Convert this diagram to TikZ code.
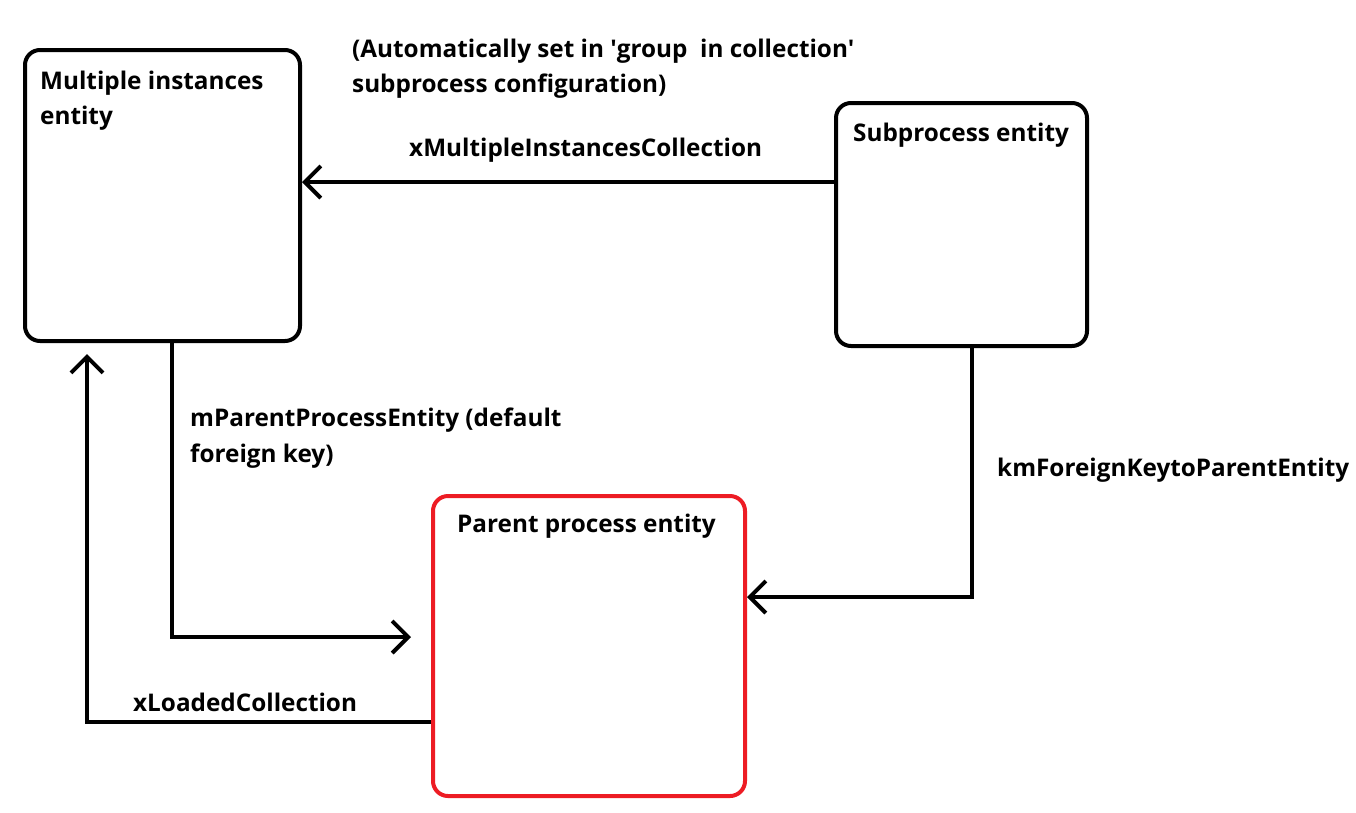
\documentclass[tikz,border=0pt]{standalone}
\usepackage{fontspec}
\setmainfont{Open Sans}
\usetikzlibrary{arrows.meta}
\definecolor{paintred}{HTML}{ED1C24}
\begin{document}
\begin{tikzpicture}[x=1pt,y=-1pt,
  box/.style={draw, line width=4pt, rounded corners=15pt, inner sep=0pt},
  lbl/.style={inner sep=0pt, anchor=base west, align=left, font=\fontsize{24.3}{35.5}\selectfont\bfseries},
  arr/.style={line width=4pt, -{Straight Barb[length=16pt,width=32pt,line width=4pt]}},
]
\useasboundingbox (0,0) rectangle (1356,812);
% boxes
\node[box, minimum width=275pt, minimum height=291pt] (mi) at (162.5,195.5) {};
\node[box, minimum width=251pt, minimum height=243pt] (sp) at (961.5,224.5) {};
\node[box, draw=paintred, minimum width=312pt, minimum height=300pt] (pp) at (589,646) {};
% titles
\node[lbl] (mit) at (40,124.5) {Multiple instances\\entity};
\node[lbl] (spt) at (853,141.5) {Subprocess entity};
\node[lbl] (ppt) at (457,532.5) {Parent process entity};
% free labels
\node[lbl] (auto) at (352,92.5) {(Automatically set in \textquotesingle group\ \ in collection\textquotesingle\\subprocess configuration)};
\node[lbl] (xmic) at (409,156) {xMultipleInstancesCollection};
\node[lbl] (mpp) at (190,462) {mParentProcessEntity (default\\foreign key)};
\node[lbl] (kmf) at (997,476.5) {kmForeignKeytoParentEntity};
\node[lbl] (xlc) at (133,711.5) {xLoadedCollection};
% connectors
\coordinate (mpend) at ([xshift=-20pt]pp.west |- 0,637);
\coordinate (xlend) at ([yshift=-11pt]mi.south -| 87,0);
\draw[arr] (sp.west |- 0,182) -- (mi.east |- 0,182);
\draw[arr] (mi.south -| 172,0) |- (mpend);
\draw[arr] (sp.south -| 972,0) |- (pp.east |- 0,597);
\draw[arr] (pp.west |- 0,722) -| (xlend);
\end{tikzpicture}
\end{document}
